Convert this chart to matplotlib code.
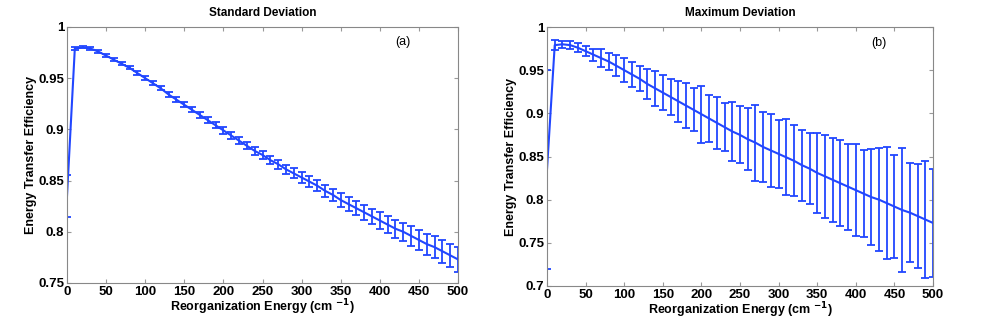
import numpy as np
import matplotlib
matplotlib.use("Agg")
import matplotlib.pyplot as plt

plt.rcParams['font.family'] = ['Liberation Sans Narrow', 'Liberation Sans', 'DejaVu Sans']
plt.rcParams['mathtext.default'] = 'bf'

# reorganization energy (cm^-1)
energy = list(range(0, 501, 10))

# mean energy transfer efficiency (same curve in both panels)
efficiency = [0.835, 0.979, 0.980, 0.979, 0.976, 0.972, 0.968, 0.964, 0.960, 0.955,
              0.950, 0.945, 0.940, 0.934, 0.929, 0.924, 0.919, 0.914, 0.909, 0.904,
              0.899, 0.894, 0.889, 0.884, 0.879, 0.875, 0.870, 0.866, 0.861, 0.857,
              0.853, 0.849, 0.845, 0.840, 0.836, 0.831, 0.827, 0.823, 0.819, 0.815,
              0.811, 0.807, 0.803, 0.800, 0.796, 0.792, 0.788, 0.785, 0.781, 0.777,
              0.773]

# panel (a): standard deviation
std_dev = [0.0205, 0.0012, 0.0010, 0.0010, 0.0011, 0.0012, 0.0013, 0.0014, 0.0015, 0.0016,
           0.0018, 0.0019, 0.0020, 0.0021, 0.0022, 0.0024, 0.0025, 0.0026, 0.0028, 0.0029,
           0.0031, 0.0032, 0.0034, 0.0036, 0.0038, 0.0040, 0.0042, 0.0044, 0.0046, 0.0048,
           0.0050, 0.0053, 0.0055, 0.0058, 0.0061, 0.0064, 0.0067, 0.0070, 0.0073, 0.0076,
           0.0080, 0.0083, 0.0087, 0.0090, 0.0094, 0.0098, 0.0102, 0.0106, 0.0110, 0.0115,
           0.0120]

# panel (b): maximum deviation
max_dev = [0.115, 0.006, 0.004, 0.005, 0.005, 0.006, 0.007, 0.010, 0.010, 0.012,
           0.014, 0.014, 0.0145, 0.017, 0.020, 0.020, 0.021, 0.024, 0.026, 0.025,
           0.033, 0.027, 0.030, 0.028, 0.034, 0.033, 0.036, 0.044, 0.040, 0.042,
           0.039, 0.044, 0.041, 0.041, 0.041, 0.046, 0.048, 0.049, 0.050, 0.050,
           0.053, 0.050, 0.056, 0.060, 0.065, 0.060, 0.072, 0.057, 0.060, 0.068,
           0.063]

xticks = [0, 50, 100, 150, 200, 250, 300, 350, 400, 450, 500]
yticks_a = [0.75, 0.8, 0.85, 0.9, 0.95, 1]
ylabels_a = ['0.75', '0.8', '0.85', '0.9', '0.95', '1']
yticks_b = [0.7, 0.75, 0.8, 0.85, 0.9, 0.95, 1]
ylabels_b = ['0.7', '0.75', '0.8', '0.85', '0.9', '0.95', '1']

blue = '#2146ff'

fig = plt.figure(figsize=(9.81, 3.27), dpi=100)
ax1 = fig.add_axes([0.0683, 0.1346, 0.3986, 0.7829])
ax2 = fig.add_axes([0.5576, 0.1254, 0.3935, 0.7920])


def style_axes(ax, yt, yl, ylim, title, tag):
    ax.set_xlim(0, 500)
    ax.set_ylim(*ylim)
    ax.set_xticks(xticks)
    ax.set_xticklabels([str(t) for t in xticks], fontsize=9.5, fontweight='bold')
    ax.set_yticks(yt)
    ax.set_yticklabels(yl, fontsize=9.5, fontweight='bold')
    ax.tick_params(direction='in', length=3, color='#999999', top=True, right=True, pad=2)
    for s in ax.spines.values():
        s.set_color('#888888')
        s.set_linewidth(0.8)
    ax.set_xlabel(r'Reorganization Energy (cm $^{-1}$)', fontsize=9, fontweight='bold', labelpad=0)
    ax.set_ylabel('Energy Transfer Efficiency', fontsize=9, fontweight='bold', labelpad=1)
    ax.set_title(title, fontsize=8.5, fontweight='bold', pad=8)
    ax.text(0.86, 0.94, tag, transform=ax.transAxes, fontsize=9, ha='center', va='center')


ax1.errorbar(energy, efficiency, yerr=std_dev, color=blue, lw=1.5,
             elinewidth=1.3, capsize=3.2, capthick=1.3)
style_axes(ax1, yticks_a, ylabels_a, (0.75, 1.0), 'Standard Deviation', '(a)')

ax2.errorbar(energy, efficiency, yerr=max_dev, color=blue, lw=1.5,
             elinewidth=1.3, capsize=3.2, capthick=1.3)
style_axes(ax2, yticks_b, ylabels_b, (0.7, 1.0), 'Maximum Deviation', '(b)')

plt.savefig('out.png', dpi=100)
